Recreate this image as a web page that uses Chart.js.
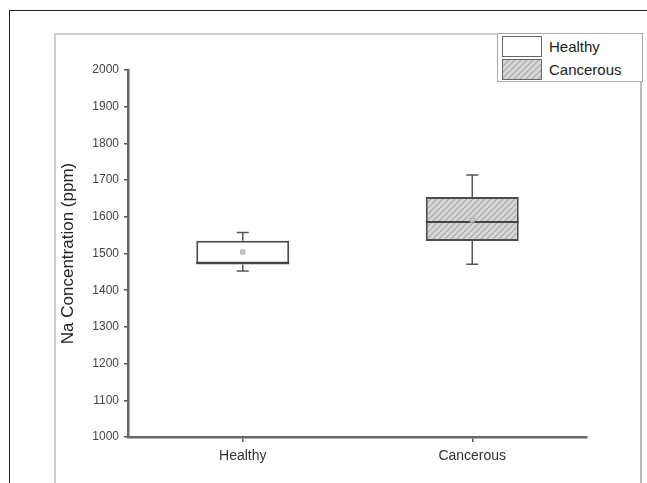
<!DOCTYPE html>
<html>
<head>
<meta charset="utf-8">
<script src="https://cdn.jsdelivr.net/npm/chart.js@4/dist/chart.umd.min.js"></script>
<style>
  html, body { margin: 0; padding: 0; background: #fff; }
  #wrap { position: relative; width: 647px; height: 483px; overflow: hidden; font-family: "Liberation Sans", Arial, sans-serif; }
  #c { position: absolute; left: 0; top: 0; }
  .ln { position: absolute; pointer-events: none; }
  #legend { position: absolute; left: 497px; top: 33px; width: 146px; height: 49px; border: 1.5px solid #aaa; background: #fff; box-sizing: border-box; }
  .lg-row { position: absolute; left: 4px; height: 23px; display: flex; align-items: center; }
  .sw { width: 40px; height: 21px; box-sizing: border-box; border: 1.5px solid #666; }
  .lg-row span { margin-left: 7px; font-size: 15px; color: #222; }
</style>
</head>
<body>
<div id="wrap">
  <div class="ln" style="left:9px;top:10px;width:640px;height:0;border-top:1.5px solid #222;"></div>
  <div class="ln" style="left:9px;top:10px;width:0;height:480px;border-left:1.5px solid #222;"></div>
  <div class="ln" style="left:54px;top:33px;width:445px;height:0;border-top:2px solid #ccc;"></div>
  <div class="ln" style="left:54px;top:33px;width:0;height:460px;border-left:2px solid #ccc;"></div>
  <div class="ln" style="left:640px;top:80px;width:0;height:410px;border-left:2px solid #bbb;"></div>
  <canvas id="c" width="647" height="483"></canvas>
  <div id="legend">
    <div class="lg-row" style="top:1px;"><div class="sw" id="sw1" style="background:#fff;"></div><span>Healthy</span></div>
    <div class="lg-row" style="top:24px;"><div class="sw" id="sw2"></div><span>Cancerous</span></div>
  </div>
</div>
<script>
const categories = ['Healthy', 'Cancerous'];
const whiskerLow = [1452, 1471];
const q1 = [1470, 1534];
const median = [1475, 1586];
const q3 = [1535, 1654];
const whiskerHigh = [1557, 1714];
const mean = [1504, 1591];
const yTicks = [1000, 1100, 1200, 1300, 1400, 1500, 1600, 1700, 1800, 1900, 2000];

function makeHatch() {
  const p = document.createElement('canvas');
  p.width = 6; p.height = 6;
  const g = p.getContext('2d');
  g.fillStyle = '#d6d6d6';
  g.fillRect(0, 0, 6, 6);
  g.strokeStyle = '#a9a9a9';
  g.lineWidth = 1.2;
  g.beginPath();
  g.moveTo(0, 6); g.lineTo(6, 0);
  g.moveTo(-3, 3); g.lineTo(3, -3);
  g.moveTo(3, 9); g.lineTo(9, 3);
  g.stroke();
  return p;
}
const hatchCanvas = makeHatch();
const ctx = document.getElementById('c').getContext('2d');
const hatch = ctx.createPattern(hatchCanvas, 'repeat');
document.getElementById('sw2').style.background = 'url(' + hatchCanvas.toDataURL() + ')';

const boxExtras = {
  id: 'boxExtras',
  afterDatasetsDraw(chart) {
    const x = chart.scales.x, y = chart.scales.y, c = chart.ctx;
    const meta = chart.getDatasetMeta(0);
    c.save();
    categories.forEach((cat, i) => {
      const bar = meta.data[i];
      const cx = x.getPixelForValue(i);
      const hw = bar.width / 2;
      const yLo = y.getPixelForValue(whiskerLow[i]);
      const yHi = y.getPixelForValue(whiskerHigh[i]);
      const yQ1 = y.getPixelForValue(q1[i]);
      const yQ3 = y.getPixelForValue(q3[i]);
      const yMed = y.getPixelForValue(median[i]);
      const yMean = y.getPixelForValue(mean[i]);
      c.strokeStyle = '#555';
      c.lineWidth = 1.5;
      c.beginPath();
      c.moveTo(cx, yQ3); c.lineTo(cx, yHi);
      c.moveTo(cx, yQ1); c.lineTo(cx, yLo);
      c.moveTo(cx - 6, yHi); c.lineTo(cx + 6, yHi);
      c.moveTo(cx - 6, yLo); c.lineTo(cx + 6, yLo);
      c.stroke();
      c.strokeStyle = '#444';
      c.lineWidth = 2;
      c.beginPath();
      c.moveTo(cx - hw, yMed); c.lineTo(cx + hw, yMed);
      c.stroke();
      c.fillStyle = '#ccc';
      c.strokeStyle = '#aaa';
      c.lineWidth = 1;
      c.fillRect(cx - 2, yMean - 2, 4, 4);
      c.strokeRect(cx - 2, yMean - 2, 4, 4);
    });
    c.restore();
  }
};

new Chart(ctx, {
  type: 'bar',
  data: {
    labels: categories,
    datasets: [{
      label: 'Box',
      data: categories.map((_, i) => [q1[i], q3[i]]),
      backgroundColor: ['#ffffff', hatch],
      borderColor: '#4a4a4a',
      borderWidth: 2,
      borderSkipped: false,
      barPercentage: 0.405,
      categoryPercentage: 1.0
    }]
  },
  options: {
    responsive: false,
    animation: false,
    layout: { padding: { left: 58, top: 70, right: 60, bottom: 0 } },
    plugins: { legend: { display: false }, tooltip: { enabled: false } },
    scales: {
      x: {
        offset: true,
        grid: { display: true, drawOnChartArea: false, drawTicks: true, tickLength: 5, offset: false, color: '#555', lineWidth: 1.5 },
        border: { display: true, color: '#666', width: 2.5 },
        ticks: { color: '#333', font: { family: 'Liberation Sans', size: 14 }, padding: 6 },
        afterFit(s) { s.height = 46; }
      },
      y: {
        min: 1000, max: 2000,
        afterBuildTicks(s) { s.ticks = yTicks.map(v => ({ value: v })); },
        grid: { display: true, drawOnChartArea: false, drawTicks: true, tickLength: 4, color: '#555', lineWidth: 1.5 },
        border: { display: true, color: '#666', width: 2.5 },
        ticks: { color: '#444', font: { family: 'Liberation Sans', size: 12 }, padding: 5, callback: (v) => String(v) },
        title: { display: true, text: 'Na Concentration (ppm)', color: '#222', font: { family: 'Liberation Sans', size: 17 }, padding: { top: 0, bottom: 2 } },
        afterFit(s) { s.width = 70; }
      }
    }
  },
  plugins: [boxExtras]
});
</script>
</body>
</html>
